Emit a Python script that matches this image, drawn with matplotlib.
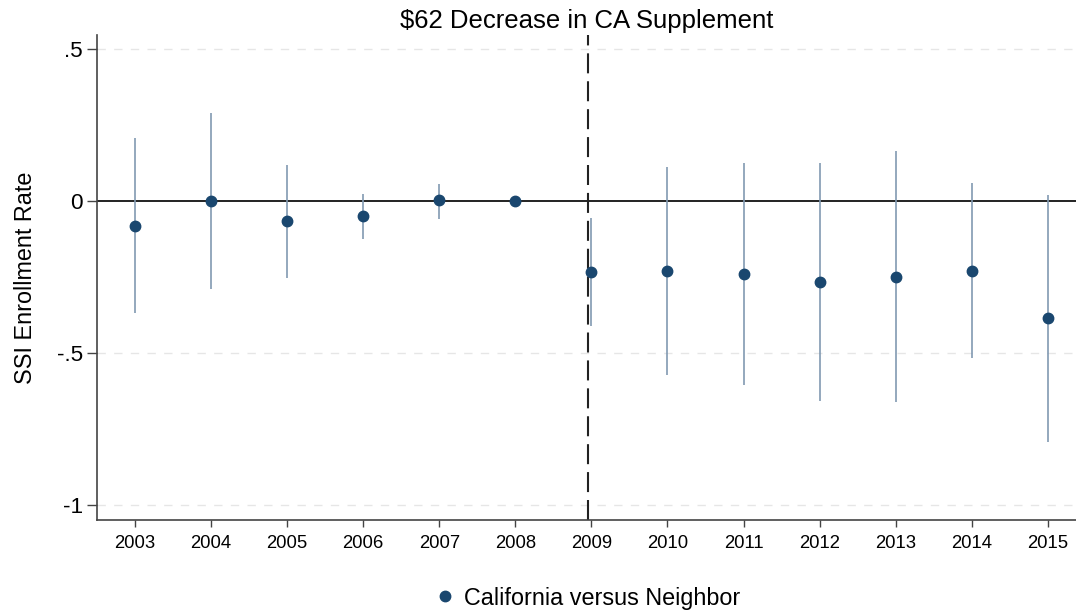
import matplotlib.pyplot as plt
import numpy as np

plt.rcParams["font.family"] = ["Liberation Sans", "DejaVu Sans"]

# event-study coefficients, California versus neighboring states
years = [2003, 2004, 2005, 2006, 2007, 2008, 2009, 2010, 2011, 2012, 2013, 2014, 2015]
coef = [-0.081, 0.001, -0.067, -0.051, 0.002, 0.0, -0.234, -0.229, -0.240, -0.265, -0.249, -0.229, -0.386]
ci_low = [-0.367, -0.289, -0.252, -0.126, -0.058, 0.0, -0.410, -0.571, -0.604, -0.656, -0.662, -0.517, -0.792]
ci_high = [0.207, 0.289, 0.119, 0.024, 0.057, 0.0, -0.057, 0.112, 0.126, 0.126, 0.163, 0.058, 0.019]

ytick_vals = [0.5, 0, -0.5, -1]
ytick_labels = [".5", "0", "-.5", "-1"]

navy = "#1a476f"
ci_color = "#8199b2"

fig = plt.figure(figsize=(10.76, 6.14), dpi=100)
ax = fig.add_axes([0.0901, 0.1531, 0.9099, 0.7899])

# reference grid at the non-zero ticks
for v in ytick_vals:
    if v != 0:
        ax.axhline(v, color="#e6e6e6", lw=1.0, dashes=(6, 6), zorder=0)
ax.axhline(0, color="#222222", lw=1.4, zorder=1)
ax.axvline(2008.955, color="#222222", lw=1.5, dashes=(9.6, 3.8), zorder=2)

ax.vlines(years, ci_low, ci_high, color=ci_color, lw=1.2, zorder=3)
ax.plot(years, coef, "o", color=navy, ms=7.5, ls="none", zorder=4,
        label="California versus Neighbor")

ax.set_xlim(2002.5, 2015.37)
ax.set_ylim(-1.048, 0.545)
ax.set_xticks(years)
ax.set_xticklabels([str(y) for y in years], fontsize=13.3)
ax.set_yticks(ytick_vals)
ax.set_yticklabels(ytick_labels, fontsize=16.2)
ax.tick_params(axis="y", length=7, width=1, color="#444444", pad=3)
ax.tick_params(axis="x", length=5, width=1, color="#444444", pad=6)

for s in ["top", "right"]:
    ax.spines[s].set_visible(False)
for s in ["left", "bottom"]:
    ax.spines[s].set_color("#444444")
    ax.spines[s].set_linewidth(1.2)

ax.set_ylabel("SSI Enrollment Rate", fontsize=16.8)
ax.yaxis.set_label_coords(-0.0608, 0.5)
ax.set_title("$62 Decrease in CA Supplement", fontsize=18.5, pad=5)

ax.legend(loc="center", bbox_to_anchor=(0.5, -0.161), frameon=False,
          fontsize=16.8, handletextpad=0.3, handlelength=1.0)

fig.savefig("out.png", dpi=100)
